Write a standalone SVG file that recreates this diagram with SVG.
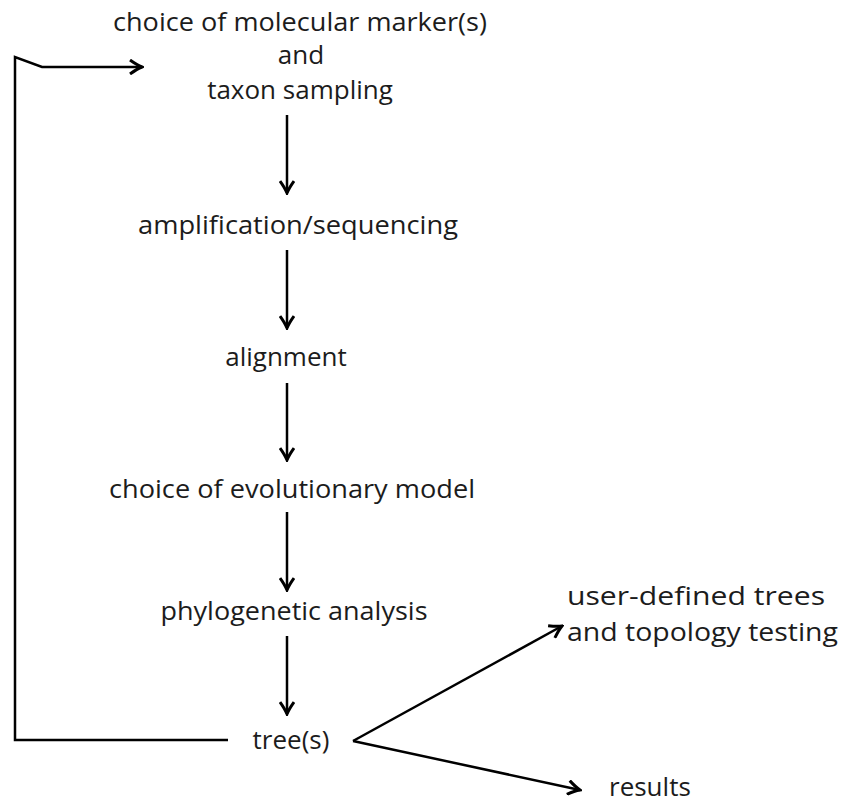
<svg xmlns="http://www.w3.org/2000/svg" width="858" height="804" viewBox="0 0 858 804">
<style>
text{font-family:"Open Sans","Noto Sans",sans-serif;font-size:26px;fill:#1c1c1c}
.c{text-anchor:middle}
.a{fill:none;stroke:#000;stroke-width:2.5;marker-end:url(#ah)}
</style>
<defs>
<marker id="ah" viewBox="0 0 16 16" refX="14" refY="8" markerWidth="16" markerHeight="16" markerUnits="userSpaceOnUse" orient="auto">
<path d="M2,1 Q9,6 14,8 Q9,10 2,15" fill="none" stroke="#000" stroke-width="3"/>
</marker>
</defs>
<rect width="858" height="804" fill="#fff"/>
<g id="n1">
<text class="c" x="300" y="31" textLength="374" lengthAdjust="spacingAndGlyphs">choice of molecular marker(s)</text>
<text class="c" x="301" y="64">and</text>
<text class="c" x="300" y="99">taxon sampling</text>
</g>
<g id="n2"><text class="c" x="298" y="234" textLength="320" lengthAdjust="spacingAndGlyphs">amplification/sequencing</text></g>
<g id="n3"><text class="c" x="286" y="366">alignment</text></g>
<g id="n4"><text class="c" x="292" y="498" textLength="366" lengthAdjust="spacingAndGlyphs">choice of evolutionary model</text></g>
<g id="n5"><text class="c" x="294" y="620" textLength="267" lengthAdjust="spacingAndGlyphs">phylogenetic analysis</text></g>
<g id="n6"><text class="c" x="291" y="749">tree(s)</text></g>
<g id="n7">
<text x="567" y="605" textLength="258" lengthAdjust="spacingAndGlyphs">user-defined trees</text>
<text x="567" y="641" textLength="271" lengthAdjust="spacingAndGlyphs">and topology testing</text>
</g>
<g id="n8"><text x="609" y="796">results</text></g>
<g id="connectors">
<path class="a" d="M287,115 V193"/>
<path class="a" d="M287,250 V328"/>
<path class="a" d="M287,383 V460"/>
<path class="a" d="M287,512 V590"/>
<path class="a" d="M287,636 V714"/>
<path class="a" d="M228,740 H15 V57 L42,67 H142"/>
<path class="a" d="M353,741 L562,626"/>
<path class="a" d="M353,741 L580,790"/>
</g>
</svg>
